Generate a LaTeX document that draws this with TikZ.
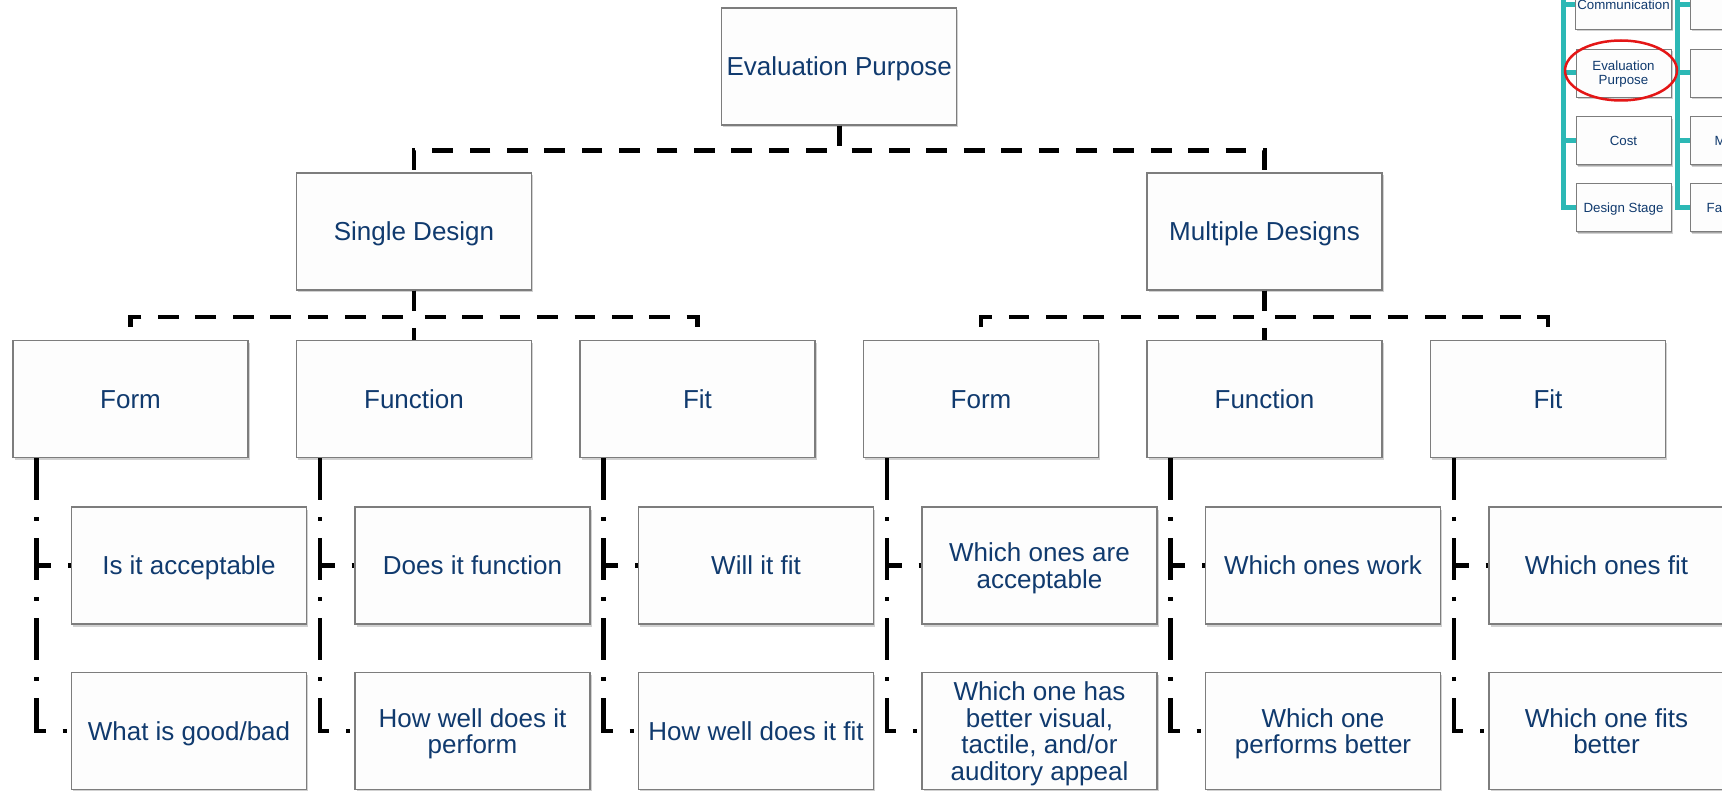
\documentclass[tikz,border=0pt]{standalone}
\usepackage{fontspec}
\setmainfont{Liberation Sans}
\usetikzlibrary{calc,shadows}

\definecolor{txt}{RGB}{16,58,110}
\definecolor{edge}{RGB}{125,125,125}
\definecolor{boxfill}{RGB}{253,253,253}
\definecolor{spinecol}{RGB}{44,184,181}
\definecolor{ringcol}{RGB}{228,22,22}

% invisible struts so every text block is centred on its capital letters
\newcommand{\topstrut}{\vrule height 0.95em depth 0pt width 0pt\relax}
\newcommand{\botstrut}{\vrule height 0pt depth 0.234em width 0pt\relax}
\newcommand{\lbl}[1]{\topstrut#1\botstrut}

\begin{document}
\begin{tikzpicture}[x=1pt,y=-1pt,
  box/.style={rectangle, draw=edge, line width=1.2pt, fill=boxfill,
    minimum width=235pt, minimum height=117pt, inner sep=2pt,
    align=center, text=txt, font=\fontsize{26}{26.6}\selectfont,
    drop shadow={shadow xshift=1.5pt, shadow yshift=-2.5pt, opacity=0.18, fill=black}},
  minibox/.style={box, minimum width=95pt, minimum height=48pt, line width=0.8pt,
    font=\fontsize{13.3}{14}\selectfont,
    drop shadow={shadow xshift=1pt, shadow yshift=-1.5pt, opacity=0.2, fill=black}},
  minilabel/.style={text=txt, font=\fontsize{13.3}{14}\selectfont, inner sep=0pt, anchor=west},
  tree/.style={line width=4.5pt, dash pattern=on 20.7pt off 16.7pt},
  leaf/.style={line width=4.5pt, dash pattern=on 42pt off 17pt on 4pt off 17pt},
  spine/.style={spinecol, line width=5pt},
]
\useasboundingbox (0,0) rectangle (1722,791);
\clip (0,0) rectangle (1722,791);

% ---------- main hierarchy ----------
\node[box] (ep) at (839.25,66.5) {\lbl{Evaluation Purpose}};

\node[box] (sd) at (414,231.5) {\lbl{Single Design}};
\node[box] (md) at (1264.5,231.5) {\lbl{Multiple Designs}};

\node[box] (sfo) at (130.5,399) {\lbl{Form}};
\node[box] (sfu) at (414,399) {\lbl{Function}};
\node[box] (sfi) at (697.5,399) {\lbl{Fit}};
\node[box] (mfo) at (981,399) {\lbl{Form}};
\node[box] (mfu) at (1264.5,399) {\lbl{Function}};
\node[box] (mfi) at (1548,399) {\lbl{Fit}};

\node[box] (sfoa) at (189,565.5) {\lbl{Is it acceptable}};
\node[box] (sfob) at (189,731) {\lbl{What is good/bad}};
\node[box] (sfua) at (472.5,565.5) {\lbl{Does it function}};
\node[box] (sfub) at (472.5,731) {\lbl{How well does it\\perform}};
\node[box] (sfia) at (756,565.5) {\lbl{Will it fit}};
\node[box] (sfib) at (756,731) {\lbl{How well does it fit}};
\node[box] (mfoa) at (1039.5,565.5) {\lbl{Which ones are\\acceptable}};
\node[box] (mfob) at (1039.5,731) {\lbl{Which one has\\better visual,\\tactile, and/or\\auditory appeal}};
\node[box] (mfua) at (1323,565.5) {\lbl{Which ones work}};
\node[box] (mfub) at (1323,731) {\lbl{Which one\\performs better}};
\node[box] (mfia) at (1606.5,565.5) {\lbl{Which ones fit}};
\node[box] (mfib) at (1606.5,731) {\lbl{Which one fits\\better}};

% dashed elbows between the upper levels
\foreach \c in {sd,md}
  \draw[tree] (ep.south) -- ++(0,25) -| (\c.north);
\foreach \c in {sfo,sfu,sfi}
  \draw[tree] (sd.south) -- ++(0,26.5) -| (\c.north);
\foreach \c in {mfo,mfu,mfi}
  \draw[tree] (md.south) -- ++(0,26.5) -| (\c.north);

% dash-dot brackets down to the question boxes
\foreach \p in {sfo,sfu,sfi,mfo,mfu,mfi}
  \foreach \r in {a,b}
    \draw[leaf] ($(\p.south west)+(24,0)$) |- (\p\r.west);

% ---------- navigation inset ----------
\node[minibox] (navcomm) at (1623.5,5) {\lbl{Communication}};
\node[minibox] (naveval) at (1623.5,73) {\lbl{Evaluation\\Purpose}};
\node[minibox] (navcost) at (1623.5,140.5) {\lbl{Cost}};
\node[minibox] (navstage) at (1623.5,207.5) {\lbl{Design Stage}};

\node[minibox] (navr1) at (1737.5,5) {};
\node[minibox] (navr2) at (1737.5,73) {};
\node[minibox] (navr3) at (1737.5,140.5) {};
\node[minibox] (navr4) at (1737.5,207.5) {};
\node[minilabel] (navr3t) at (1714.5,140.5) {\lbl{M}};
\node[minilabel] (navr4t) at (1706.5,207.5) {\lbl{Fab}};

\coordinate (spineL) at (1563,-10);
\coordinate (spineR) at (1677,-10);
\foreach \c in {navcomm,naveval,navcost,navstage}
  \draw[spine] (spineL) |- (\c.west);
\foreach \c in {navr1,navr2,navr3,navr4}
  \draw[spine] (spineR) |- (\c.west);

\draw[ringcol, line width=2.5pt] ($(naveval.center)+(-2.5,-2.5)$) ellipse [x radius=56, y radius=30];
\end{tikzpicture}
\end{document}
